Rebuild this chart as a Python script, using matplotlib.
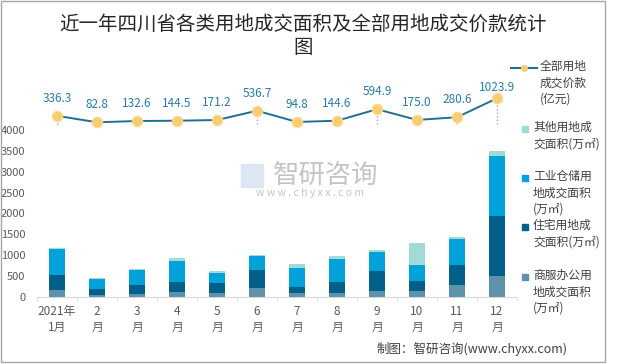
import matplotlib
matplotlib.use("Agg")
import matplotlib.pyplot as plt
import matplotlib.patches as patches
from matplotlib.lines import Line2D
import numpy as np

plt.rcParams['font.family'] = ['Noto Sans CJK SC', 'DejaVu Sans']

W, H = 620, 364

months = ["2021年\n1月", "2\n月", "3\n月", "4\n月", "5\n月", "6\n月",
          "7\n月", "8\n月", "9\n月", "10\n月", "11\n月", "12\n月"]
commercial = [150, 30, 70, 105, 80, 200, 80, 80, 130, 145, 285, 508]
residential = [375, 165, 200, 240, 242, 430, 162, 265, 475, 225, 465, 1434]
industrial = [620, 240, 360, 520, 250, 345, 451, 565, 470, 400, 630, 1427]
other = [20, 10, 40, 55, 41, 30, 97, 55, 55, 510, 55, 129]
land_price = [336.3, 82.8, 132.6, 144.5, 171.2, 536.7, 94.8, 144.6, 594.9, 175.0, 280.6, 1023.9]

bar_series = [
    ("商服办公用\n地成交面积\n(万㎡)", commercial, "#5e91aa"),
    ("住宅用地成\n交面积(万㎡)", residential, "#00608a"),
    ("工业仓储用\n地成交面积\n(万㎡)", industrial, "#00a2da"),
    ("其他用地成\n交面积(万㎡)", other, "#a3d9d7"),
]
line_label = "全部用地\n成交价款\n(亿元)"
line_color = "#1f6f93"
label_color = "#2a7ba6"
text_gray = "#595959"


def fx(px):
    return px / W


def fy(py):
    return 1 - py / H


fig = plt.figure(figsize=(W / 100, H / 100), dpi=100)
ax_left, ax_right, ax_top, ax_bottom = 37, 517, 82, 296.7
ax = fig.add_axes([fx(ax_left), fy(ax_bottom), (ax_right - ax_left) / W, (ax_bottom - ax_top) / H])
ax.patch.set_alpha(0)

x = np.arange(len(months))
bottom = np.zeros(len(months))
for label, vals, color in bar_series:
    ax.bar(x, vals, width=0.39, bottom=bottom, color=color, zorder=2)
    bottom += np.array(vals)

px_per_unit = 41.67 / 1000
ax.set_ylim(0, (ax_bottom - ax_top) / px_per_unit)
ax.set_xlim(-0.5, len(months) - 0.5)
ax.set_yticks(np.arange(0, 4001, 500))
ax.set_xticks(x)
ax.set_xticklabels(months, linespacing=1.25)
ax.set_xticks(np.arange(-0.5, len(months), 1), minor=True)
ax.tick_params(axis='y', length=0, pad=8.5, labelsize=8, labelcolor=text_gray)
ax.tick_params(axis='x', which='major', length=0, pad=6, labelsize=8.5, labelcolor=text_gray)
ax.tick_params(axis='x', which='minor', length=3, color="#d9d9d9")
for side in ['top', 'right', 'left']:
    ax.spines[side].set_visible(False)
ax.spines['bottom'].set_color("#d9d9d9")

# line on secondary axis (hidden)
ax2 = ax.twinx()
zero_px, line_scale = 124.4, 0.0255
ax2.set_ylim(-(ax_bottom - zero_px) / line_scale, (zero_px - ax_top) / line_scale)
ax2.axis('off')
ax2.vlines(x, 0, land_price, colors="#a6a6a6", linestyles=(0, (1, 1.5)), lw=1, zorder=2)
ax2.plot(x, land_price, color=line_color, lw=1.4, marker='o', ms=7.5,
         mfc="#f8cd72", mec="#fbdc98", mew=0.8, zorder=3)
for i, v in enumerate(land_price):
    dy = 7.5 if i == len(land_price) - 1 else 12.5
    ax2.annotate(f"{v:.1f}", (i, v), xytext=(0, dy), textcoords='offset points',
                 ha='center', va='center', fontsize=8.5, color=label_color)

# title
fig.text(fx(303), fy(24), "近一年四川省各类用地成交面积及全部用地成交价款统计",
         ha='center', va='center', fontsize=14, color="#262626")
fig.text(fx(303), fy(47.5), "图", ha='center', va='center', fontsize=14, color="#262626")

# legend
fig.add_artist(Line2D([fx(511), fx(537)], [fy(68), fy(68)], color=line_color, lw=1.5))
fig.add_artist(Line2D([fx(524)], [fy(68)], marker='o', ms=4, color="#f8cd72", lw=0))
fig.text(fx(540), fy(60), line_label, ha='left', va='top', fontsize=8.5,
         color="#404040", linespacing=1.35)
legend_y = {"其他": 129, "工业": 178, "住宅": 227, "商服": 277}
for label, vals, color in bar_series:
    y0 = legend_y[label[:2]]
    fig.add_artist(patches.Rectangle((fx(522), fy(y0 + 3)), 6 / W, 6 / H,
                                     transform=fig.transFigure, color=color))
    fig.text(fx(533), fy(y0 - 8), label, ha='left', va='top', fontsize=8.5,
             color="#404040", linespacing=1.35)

# watermark
fig.text(fx(326), fy(175), "智研咨询", ha='center', va='center', fontsize=19, color="#c4c4c4")
fig.text(fx(310), fy(193), " ".join("www.chyxx.com"), ha='center', va='center',
         fontsize=7.5, color="#c4c4c4")
fig.add_artist(patches.Rectangle((fx(241), fy(187)), 22 / W, 23 / H,
                                 transform=fig.transFigure, color="#dbe8f4", zorder=1))

# source
fig.text(fx(568), fy(349), "制图：智研咨询(www.chyxx.com)", ha='right', va='center',
         fontsize=9, color="#404040")

# outer frame
fig.add_artist(patches.Rectangle((fx(1), fy(361.5)), 604 / W, 360.5 / H,
                                 transform=fig.transFigure, fill=False,
                                 edgecolor="#a6a6a6", lw=1))

fig.savefig("out.png", dpi=100)
